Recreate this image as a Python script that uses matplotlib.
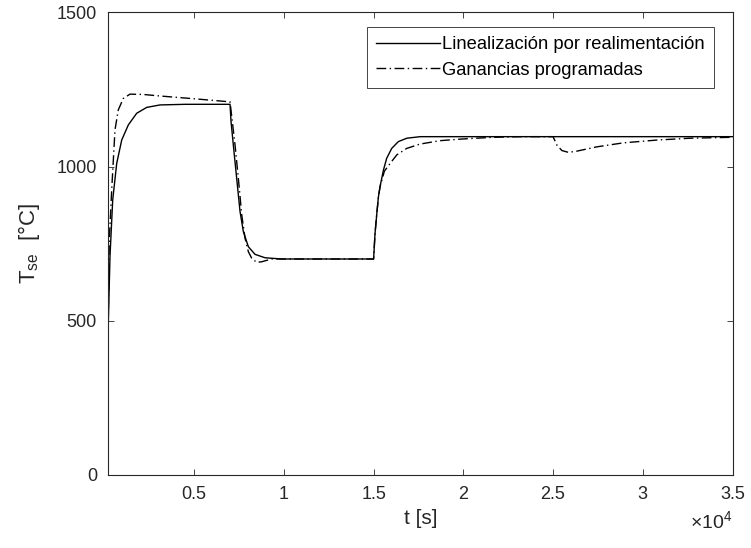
import matplotlib
matplotlib.use("Agg")
import matplotlib.pyplot as plt

plt.rcParams['font.family'] = ['Liberation Sans', 'DejaVu Sans']
plt.rcParams['mathtext.fontset'] = 'custom'
plt.rcParams['mathtext.rm'] = 'Liberation Sans'

# Feedback linearization controller response: time [s], temperature [°C]
t_lin = [200, 217, 311, 462, 685, 964, 1332, 1800, 2357, 3099, 4500, 7000,
         7056, 7184, 7370, 7558, 7742, 8020, 8394, 8951, 9880, 15000,
         15080, 15180, 15270, 15360, 15550, 15730, 16010, 16380, 16850,
         17600, 20000, 35000]
T_lin = [361, 491, 708, 891, 1010, 1086, 1135, 1173, 1192, 1200, 1202, 1202,
         1146, 1070, 962, 854, 789, 740, 715, 704, 700, 700,
         783, 848, 902, 935, 989, 1027, 1059, 1081, 1092,
         1097, 1097, 1097]

# Gain-scheduled controller response: time [s], temperature [°C]
t_gs = [200, 230, 272, 406, 590, 774, 1053, 1426, 2168, 3099, 5000, 7000,
        7100, 7279, 7463, 7653, 7837, 8020, 8210, 8488, 8765, 9319, 9900,
        15000, 15080, 15180, 15270, 15360, 15600, 15920, 16293, 16849,
        17591, 18706, 19820, 21677, 23165, 25000, 25210, 25490, 25860,
        26325, 27440, 28925, 30785, 32640, 35000]
T_gs = [361, 600, 761, 924, 1119, 1184, 1221, 1235, 1234, 1229, 1220, 1210,
        1160, 1070, 962, 843, 767, 724, 702, 689, 691, 700, 700,
        700, 783, 848, 902, 935, 985, 1010, 1038, 1059,
        1073, 1084, 1089, 1095, 1097, 1097, 1070, 1052, 1046,
        1050, 1064, 1077, 1086, 1092, 1095]

series_labels = ['Linealización por realimentación', 'Ganancias programadas']
x_ticks = [5000, 10000, 15000, 20000, 25000, 30000, 35000]
x_tick_labels = ['0.5', '1', '1.5', '2', '2.5', '3', '3.5']
y_ticks = [0, 500, 1000, 1500]

axis_color = '#262626'

fig = plt.figure(figsize=(7.51, 5.48), dpi=100)
ax = fig.add_axes([0.1438, 0.1338, 0.8316, 0.8434])

ax.plot(t_lin, T_lin, color='black', lw=1.0, label=series_labels[0])
ax.plot(t_gs, T_gs, color='black', lw=1.0, dashes=(7, 2.5, 1, 2.5),
        label=series_labels[1])

ax.set_xlim(200, 35000)
ax.set_ylim(0, 1500)
ax.set_xticks(x_ticks)
ax.set_xticklabels(x_tick_labels)
ax.set_yticks(y_ticks)

for sp in ax.spines.values():
    sp.set_color(axis_color)
    sp.set_linewidth(0.8)

ax.tick_params(direction='in', top=True, right=True, length=4.5, width=0.6,
               colors=axis_color, labelsize=13)
ax.tick_params(axis='x', pad=8)
ax.tick_params(axis='y', pad=8)

ax.set_xlabel('t [s]', fontsize=15, color=axis_color)
ax.xaxis.set_label_coords(0.5, -0.075)
ax.set_ylabel(r'$\mathregular{T_{se}}$  [°C]', fontsize=16, color=axis_color)
ax.yaxis.set_label_coords(-0.105, 0.5)

ax.text(1.0, -0.115, r'$\times\mathregular{10^4}$', transform=ax.transAxes,
        ha='right', va='baseline', fontsize=14, color=axis_color)

leg = ax.legend(loc='upper right', bbox_to_anchor=(0.9704, 0.9680),
                borderaxespad=0, prop={'size': 13.25}, frameon=True,
                fancybox=False, framealpha=1, edgecolor=axis_color,
                handlelength=3.5, handletextpad=0.1, borderpad=0.5,
                labelspacing=0.45)
leg.get_frame().set_linewidth(0.6)
for txt in leg.get_texts():
    txt.set_color('black')

fig.savefig('out.png', dpi=100)
